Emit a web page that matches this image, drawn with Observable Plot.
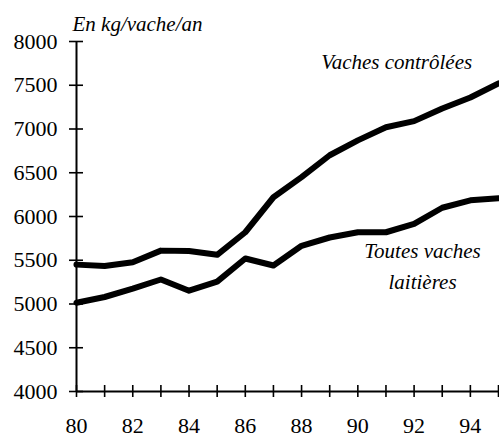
<!DOCTYPE html>
<html>
<head>
<meta charset="utf-8">
<script src="https://cdn.jsdelivr.net/npm/d3@7"></script>
<script src="https://cdn.jsdelivr.net/npm/@observablehq/plot@0.6"></script>
<style>
  html, body { margin: 0; padding: 0; background: #fff; }
  #chart svg { display: block; overflow: visible; }
  #chart svg text { font-family: "Liberation Serif", Tinos, "Times New Roman", Times, "DejaVu Serif", "Noto Serif", FreeSerif, serif; }
</style>
</head>
<body>
<div id="chart"></div>
<script>
const years = [80, 81, 82, 83, 84, 85, 86, 87, 88, 89, 90, 91, 92, 93, 94, 95];
const vachesControlees = [5450, 5435, 5478, 5610, 5605, 5562, 5820, 6220, 6450, 6700, 6870, 7020, 7090, 7235, 7360, 7520];
const toutesVaches = [5015, 5080, 5175, 5280, 5152, 5255, 5520, 5440, 5665, 5760, 5820, 5820, 5915, 6100, 6185, 6208];
const yTicks = [4000, 4500, 5000, 5500, 6000, 6500, 7000, 7500, 8000];
const xLabelTicks = [80, 82, 84, 86, 88, 90, 92, 94];
const xMinorTicks = [81, 83, 85, 87, 89, 91, 93, 95];
const yTitle = "En kg/vache/an";
const seriesLabels = [
  {x: 91.38, y: 7690, text: "Vaches contrôlées"},
  {x: 92.3, y: 5177, text: "Toutes vaches\nlaitières"}
];

const rows = (vals) => years.map((yr, i) => ({year: yr, value: vals[i]}));
const serif = "Liberation Serif, Tinos, Times New Roman, Times, DejaVu Serif, Noto Serif, FreeSerif, serif";

const chart = Plot.plot({
  width: 499,
  height: 433,
  marginLeft: 76,
  marginRight: 1,
  marginTop: 41,
  marginBottom: 42,
  style: {fontFamily: serif, fontSize: "22px", color: "black", background: "white"},
  x: {domain: [years[0], years[years.length - 1]]},
  y: {domain: [yTicks[0], yTicks[yTicks.length - 1]]},
  marks: [
    Plot.ruleX([{x: years[0], y1: yTicks[0], y2: yTicks[yTicks.length - 1]}], {x: "x", y1: "y1", y2: "y2", stroke: "black", strokeWidth: 2}),
    Plot.ruleY([{y: yTicks[0]}], {y: "y", stroke: "black", strokeWidth: 2}),
    Plot.axisY({ticks: yTicks, tickSize: 14, dx: 7, tickPadding: 12, label: null, fontSize: 22, fontFamily: serif, stroke: "black", fill: "black", strokeWidth: 1.6, tickFormat: d => String(d)}),
    Plot.axisX({ticks: xLabelTicks, tickSize: 12, dy: -6, tickPadding: 20, label: null, fontSize: 22, fontFamily: serif, stroke: "black", fill: "black", strokeWidth: 1.6, tickFormat: d => String(d)}),
    Plot.axisX({ticks: xMinorTicks, tickSize: 12, dy: -6, label: null, fill: "none", stroke: "black", strokeWidth: 1.6}),
    Plot.line(rows(vachesControlees), {x: "year", y: "value", stroke: "black", strokeWidth: 6, strokeLinejoin: "round", strokeLinecap: "round"}),
    Plot.line(rows(toutesVaches), {x: "year", y: "value", stroke: "black", strokeWidth: 6, strokeLinejoin: "round", strokeLinecap: "round"}),
    Plot.text(seriesLabels, {x: "x", y: "y", text: "text", fontStyle: "italic", fontFamily: serif, fontSize: 21, lineAnchor: "bottom", lineHeight: 1.43, textAnchor: "middle", fill: "black"}),
    Plot.text([yTitle], {frameAnchor: "top-left", dx: -4, dy: -11, lineAnchor: "bottom", textAnchor: "start", fontStyle: "italic", fontFamily: serif, fontSize: 21, fill: "black"})
  ]
});
chart.setAttribute("font-family", serif);
document.getElementById("chart").appendChild(chart);
</script>
</body>
</html>
